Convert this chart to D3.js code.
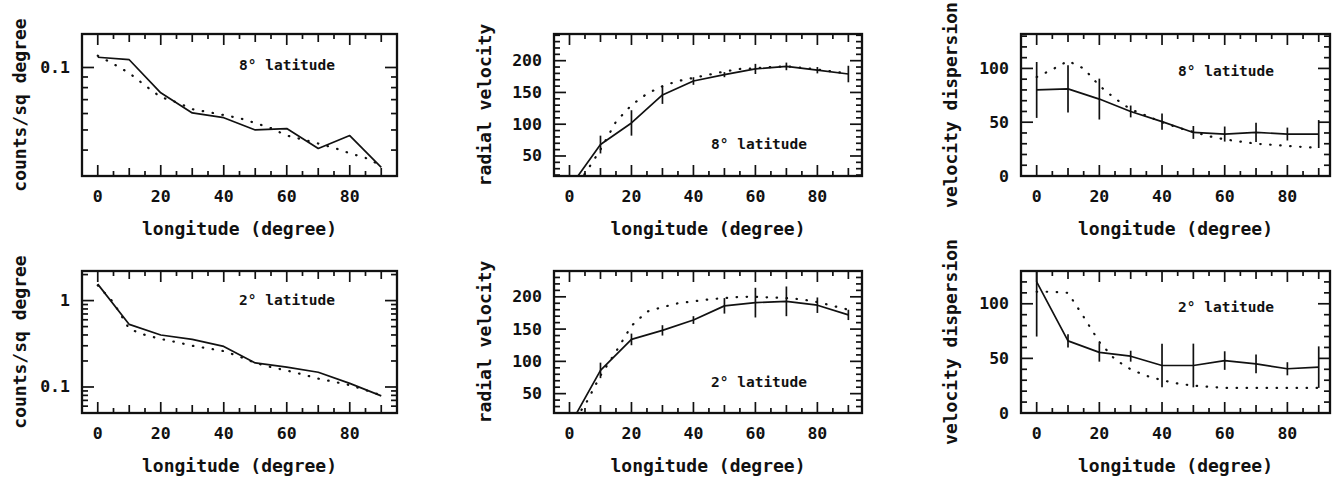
<!DOCTYPE html>
<html><head><meta charset="utf-8">
<script src="https://cdn.jsdelivr.net/npm/d3@7"></script>
<style>
html,body{margin:0;padding:0;background:#fff;}
svg{display:block;}
text{font-family:"DejaVu Sans Mono",monospace;font-weight:bold;fill:#111;}
</style></head>
<body>
<svg id="chart" width="1335" height="478"></svg>
<script>
// ---------------- data ----------------
const lonObs = [0, 10, 20, 30, 40, 50, 60, 70, 80, 90];
const lonModel = [0, 5, 10, 15, 20, 25, 30, 35, 40, 45, 50, 55, 60, 65, 70, 75, 80, 85, 90];

// star counts (counts / sq degree), log scale
const counts8Obs   = [0.112, 0.109, 0.0755, 0.0604, 0.0573, 0.050, 0.0508, 0.0407, 0.047, 0.033];
const counts8Model = [0.114, 0.104, 0.094, 0.082, 0.072, 0.068, 0.063, 0.061, 0.059, 0.057, 0.054, 0.051, 0.047, 0.045, 0.043, 0.041, 0.0386, 0.0367, 0.0337];
const counts2Obs   = [1.55, 0.53, 0.40, 0.355, 0.295, 0.19, 0.17, 0.148, 0.11, 0.079];
const counts2Model = [1.5, 0.95, 0.47, 0.40, 0.36, 0.33, 0.30, 0.28, 0.26, 0.225, 0.19, 0.17, 0.155, 0.14, 0.125, 0.115, 0.105, 0.092, 0.08];

// radial velocity
const vrad8Obs   = [0, 68, 102, 146, 168, 178, 187, 191, 185, 179];
const vrad8Err   = [0, 14, 20, 14, 6, 4, 8, 6, 5, 13];
const vrad8Model = [0, 22, 60, 104, 130, 148, 160, 168, 173, 178, 183, 187, 188, 190, 191, 189, 186, 183, 180];
const vrad2Obs   = [0, 86, 134, 148, 164, 186, 191, 193, 187, 172];
const vrad2Err   = [0, 12, 9, 8, 6, 12, 23, 23, 12, 8];
const vrad2Model = [0, 32, 78, 115, 155, 177, 184, 190, 193, 196, 198, 200, 200, 199, 198, 196, 192, 186, 180];

// velocity dispersion
const disp8Obs   = [80, 81, 71.5, 60, 50.5, 40.5, 39, 40.5, 39, 39];
const disp8Err   = [26, 22, 19, 5.5, 7.5, 6, 7, 9, 6, 13];
const disp8Model = [92, 99, 107, 100, 84, 72, 62, 56, 50, 45, 41, 37, 34, 32, 30, 29, 28, 27, 26];
const disp2Obs   = [120, 66, 55.5, 52, 43.5, 43.5, 48, 45, 40.5, 42];
const disp2Err   = [50, 6, 8.5, 5, 20, 20, 8.5, 8.5, 6, 19];
const disp2Model = [111, 111, 110, 88, 65, 49, 40, 34, 30, 27, 25, 24, 23, 23, 23, 23, 23, 23, 23];

// axis labels / ticks
const xTickLabels = [0, 20, 40, 60, 80];
const countsTicks8 = [0.1];
const countsTicks2 = [0.1, 1];
const vradTicks = [50, 100, 150, 200];
const dispTicks = [0, 50, 100];
const yTitles = ["counts/sq degree", "radial velocity", "velocity dispersion"];
const xTitle = "longitude (degree)";
const latLabels = ["8° latitude", "2° latitude"];

// ---------------- layout ----------------
const cols = [
  {L: 82,   W: 315, xMax: 95,   titleDx: 63, annDy: [31, 29]},
  {L: 554,  W: 308, xMax: 94.4, titleDx: 70, annDy: [110, 111]},
  {L: 1021, W: 309, xMax: 93.6, titleDx: 71, annDy: [36.5, 36]}
];
const rows = [{T: 34, B: 176}, {T: 271, B: 413}];

const panels = [
  {r:0,c:0, type:"log", domain:[0.03, 0.145], obs:counts8Obs, model:counts8Model, ticks:countsTicks8, lat:latLabels[0]},
  {r:0,c:1, type:"lin", domain:[18.5, 242], obs:vrad8Obs, err:vrad8Err, model:vrad8Model, ticks:vradTicks, minor:10, lat:latLabels[0]},
  {r:0,c:2, type:"lin", domain:[0, 132], obs:disp8Obs, err:disp8Err, model:disp8Model, ticks:dispTicks, minor:10, lat:latLabels[0]},
  {r:1,c:0, type:"log", domain:[0.05, 2.2], obs:counts2Obs, model:counts2Model, ticks:countsTicks2, lat:latLabels[1]},
  {r:1,c:1, type:"lin", domain:[20, 240], obs:vrad2Obs, err:vrad2Err, model:vrad2Model, ticks:vradTicks, minor:10, lat:latLabels[1]},
  {r:1,c:2, type:"lin", domain:[0, 130], obs:disp2Obs, err:disp2Err, model:disp2Model, ticks:dispTicks, minor:10, lat:latLabels[1]}
];

const svg = d3.select("#chart");
const ink = "#111";

panels.forEach((p, i) => {
  const col = cols[p.c], row = rows[p.r];
  const x = d3.scaleLinear().domain([-5, col.xMax]).range([col.L, col.L + col.W]);
  const y = (p.type === "log" ? d3.scaleLog() : d3.scaleLinear()).domain(p.domain).range([row.B, row.T]);
  const g = svg.append("g");
  const clipId = "clip" + i;
  svg.append("clipPath").attr("id", clipId).append("rect")
    .attr("x", col.L).attr("y", row.T).attr("width", col.W).attr("height", row.B - row.T);

  // x ticks (every 5, inward, top and bottom)
  const xt = d3.range(0, Math.floor(col.xMax) + 1, 5);
  xt.forEach(v => {
    const len = v % 20 === 0 ? 11 : (v % 10 === 0 ? 8 : 5);
    const xx = x(v);
    g.append("line").attr("x1", xx).attr("x2", xx).attr("y1", row.B).attr("y2", row.B - len)
      .attr("stroke", ink).attr("stroke-width", 1.7);
    g.append("line").attr("x1", xx).attr("x2", xx).attr("y1", row.T).attr("y2", row.T + len)
      .attr("stroke", ink).attr("stroke-width", 1.7);
  });
  // x tick labels
  xTickLabels.forEach(v => {
    g.append("text").attr("x", x(v)).attr("y", row.B + 20).attr("text-anchor", "middle")
      .attr("dominant-baseline", "central").attr("font-size", 16.5).text(v);
  });

  // y ticks
  let minorVals = [];
  if (p.type === "log") {
    const e0 = Math.floor(Math.log10(p.domain[0])), e1 = Math.ceil(Math.log10(p.domain[1]));
    for (let e = e0; e <= e1; e++) for (let k = 1; k <= 9; k++) {
      const v = +(k * Math.pow(10, e)).toPrecision(6);
      if (v > p.domain[0] * 1.001 && v < p.domain[1] * 0.999) minorVals.push(v);
    }
  } else {
    minorVals = d3.range(Math.ceil(p.domain[0] / p.minor) * p.minor, p.domain[1], p.minor)
      .filter(v => v > p.domain[0] + 0.5);
  }
  minorVals.forEach(v => {
    const major = p.ticks.some(t => Math.abs(t - v) < 1e-9);
    const len = major ? 12 : 6;
    const yy = y(v);
    g.append("line").attr("x1", col.L).attr("x2", col.L + len).attr("y1", yy).attr("y2", yy)
      .attr("stroke", ink).attr("stroke-width", 1.7);
    g.append("line").attr("x1", col.L + col.W).attr("x2", col.L + col.W - len).attr("y1", yy).attr("y2", yy)
      .attr("stroke", ink).attr("stroke-width", 1.7);
  });
  p.ticks.forEach(v => {
    g.append("text").attr("x", col.L - 12).attr("y", y(v)).attr("text-anchor", "end")
      .attr("dominant-baseline", "central").attr("font-size", 16.5).text(v);
  });

  // frame
  g.append("rect").attr("x", col.L).attr("y", row.T).attr("width", col.W).attr("height", row.B - row.T)
    .attr("fill", "none").attr("stroke", ink).attr("stroke-width", 2.3);

  const plot = g.append("g").attr("clip-path", "url(#" + clipId + ")");
  // model (dotted)
  const mLine = d3.line().x((d, j) => x(lonModel[j])).y(d => y(d));
  plot.append("path").attr("d", mLine(p.model)).attr("fill", "none").attr("stroke", ink)
    .attr("stroke-width", 2.2).attr("stroke-linecap", "round").attr("stroke-dasharray", "0.5,9.5");
  // observed (solid)
  const oLine = d3.line().x((d, j) => x(lonObs[j])).y(d => y(d));
  plot.append("path").attr("d", oLine(p.obs)).attr("fill", "none").attr("stroke", ink)
    .attr("stroke-width", 1.7).attr("stroke-linejoin", "round");
  // error bars
  if (p.err) {
    p.obs.forEach((v, j) => {
      if (!p.err[j]) return;
      plot.append("line").attr("x1", x(lonObs[j])).attr("x2", x(lonObs[j]))
        .attr("y1", y(v - p.err[j])).attr("y2", y(v + p.err[j]))
        .attr("stroke", ink).attr("stroke-width", 1.7);
    });
  }

  // latitude label
  g.append("text").attr("x", col.L + 157).attr("y", row.T + col.annDy[p.r])
    .attr("dominant-baseline", "central").attr("font-size", 14.5).text(p.lat);

  // axis titles
  g.append("text").attr("x", col.L + col.W / 2).attr("y", row.B + 52).attr("text-anchor", "middle")
    .attr("dominant-baseline", "central").attr("font-size", 18).text(xTitle);
  const cy = (row.T + row.B) / 2, cx = col.L - col.titleDx;
  g.append("text").attr("transform", `translate(${cx},${cy}) rotate(-90)`).attr("text-anchor", "middle")
    .attr("dominant-baseline", "central").attr("font-size", 18).text(yTitles[p.c]);
});
</script>
</body></html>
